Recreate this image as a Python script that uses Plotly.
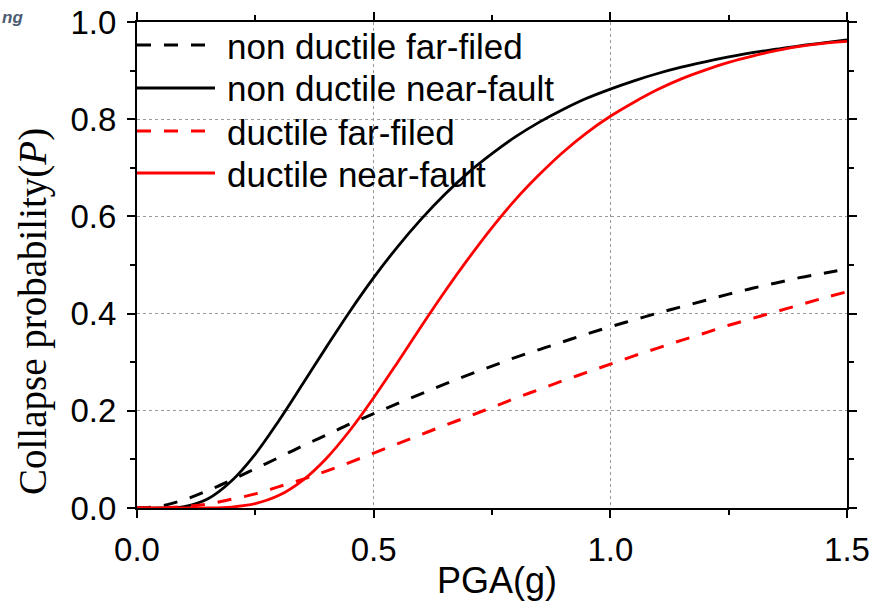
import plotly.graph_objects as go

# Peak ground acceleration (g)
pga = [0.00, 0.05, 0.10, 0.15, 0.20, 0.25, 0.30, 0.35, 0.40, 0.45, 0.50,
       0.55, 0.60, 0.65, 0.70, 0.75, 0.80, 0.85, 0.90, 0.95, 1.00,
       1.05, 1.10, 1.15, 1.20, 1.25, 1.30, 1.35, 1.40, 1.45, 1.50]

# Collapse probability for each structural case
non_ductile_far = [0.000, 0.004, 0.017, 0.036, 0.058, 0.081, 0.104, 0.128, 0.150, 0.173, 0.194,
                   0.215, 0.235, 0.255, 0.274, 0.292, 0.310, 0.326, 0.342, 0.358, 0.373,
                   0.387, 0.401, 0.414, 0.427, 0.440, 0.452, 0.463, 0.474, 0.483, 0.492]
non_ductile_near = [0.000, 0.000, 0.003, 0.019, 0.056, 0.111, 0.180, 0.255, 0.331, 0.405, 0.474,
                    0.537, 0.594, 0.645, 0.690, 0.729, 0.764, 0.794, 0.820, 0.843, 0.862,
                    0.879, 0.894, 0.907, 0.918, 0.928, 0.937, 0.944, 0.951, 0.957, 0.963]
ductile_far = [0.000, 0.000, 0.003, 0.008, 0.018, 0.029, 0.044, 0.059, 0.076, 0.094, 0.113,
               0.132, 0.151, 0.170, 0.188, 0.207, 0.226, 0.244, 0.262, 0.279, 0.296,
               0.313, 0.329, 0.345, 0.360, 0.376, 0.390, 0.404, 0.418, 0.432, 0.445]
ductile_near = [0.000, 0.000, 0.000, 0.000, 0.002, 0.009, 0.026, 0.057, 0.102, 0.160, 0.227,
                0.299, 0.373, 0.445, 0.513, 0.577, 0.635, 0.686, 0.732, 0.772, 0.806,
                0.835, 0.861, 0.883, 0.901, 0.917, 0.930, 0.941, 0.950, 0.956, 0.960]

names = ["non ductile far-filed", "non ductile near-fault",
         "ductile far-filed", "ductile near-fault"]
series = [non_ductile_far, non_ductile_near, ductile_far, ductile_near]
colors = ["#000000", "#000000", "#ff0000", "#ff0000"]
dashes = ["14px,13px", "solid", "14px,13px", "solid"]
widths = [3, 2.8, 3, 2.8]

W, H = 874, 608
ML, MR, MT, MB = 137, 27, 22, 100
PW, PH = W - ML - MR, H - MT - MB

fig = go.Figure()
for name, ys, c, d, w in zip(names, series, colors, dashes, widths):
    fig.add_trace(go.Scatter(x=pga, y=ys, mode="lines", name=name,
                             line=dict(color=c, dash=d, width=w, shape="spline"),
                             showlegend=False))

sans = "Liberation Sans, Arial, sans-serif"
serif = "Liberation Serif, Times New Roman, serif"


def px_x(p):
    return (p - ML) / PW


def px_y(p):
    return (H - MB - p) / PH


# Legend drawn in the upper-left corner of the plot area
legend_rows = [45, 88, 131, 173]
shapes = []
annotations = []
for row, name, c, d, w in zip(legend_rows, names, colors, dashes, widths):
    shapes.append(dict(type="line", xref="paper", yref="paper",
                       x0=px_x(137), x1=px_x(215), y0=px_y(row), y1=px_y(row),
                       line=dict(color=c, width=w, dash=d if d != "solid" else None)))
    annotations.append(dict(text=name, xref="paper", yref="paper",
                            x=px_x(225), y=px_y(row + 1), xanchor="left", yanchor="middle",
                            showarrow=False, font=dict(family=sans, size=35, color="#000")))

# Axis titles
annotations.append(dict(text="Collapse probability(<i>P</i>)", xref="paper", yref="paper",
                        x=px_x(33), y=px_y(312), xanchor="center", yanchor="middle",
                        textangle=-90, showarrow=False,
                        font=dict(family=serif, size=39, color="#000")))
annotations.append(dict(text="PGA(g)", xref="paper", yref="paper",
                        x=px_x(497), y=px_y(580), xanchor="center", yanchor="middle",
                        showarrow=False, font=dict(family=sans, size=36, color="#000")))

annotations.append(dict(text="<b><i>ng</i></b>", xref="paper", yref="paper",
                        x=px_x(0), y=px_y(17), xanchor="left", yanchor="middle",
                        showarrow=False, font=dict(family=sans, size=17, color="#4a5a70")))

axis_common = dict(
    showline=True, linecolor="#000", linewidth=2, mirror="ticks",
    ticks="outside", ticklen=8, tickwidth=2, tickcolor="#000",
    showgrid=True, gridcolor="#9a9a9a", gridwidth=1, griddash="dot",
    zeroline=False, tickformat=".1f",
    tickfont=dict(family=sans, size=33, color="#000"),
)

fig.update_xaxes(range=[0, 1.5], dtick=0.5, tick0=0,
                 minor=dict(dtick=0.25, ticklen=5, tickwidth=2, tickcolor="#000", ticks="outside"),
                 ticklabelstandoff=3,
                 **axis_common)
fig.update_yaxes(range=[0, 1.0], dtick=0.2, tick0=0,
                 minor=dict(dtick=0.1, ticklen=5, tickwidth=2, tickcolor="#000", ticks="outside"),
                 ticklabelstandoff=4,
                 **axis_common)

fig.update_layout(
    width=W, height=H,
    margin=dict(l=ML, r=MR, t=MT, b=MB, autoexpand=False),
    plot_bgcolor="#ffffff", paper_bgcolor="#ffffff",
    shapes=shapes, annotations=annotations,
)

fig.write_html("out.html")
